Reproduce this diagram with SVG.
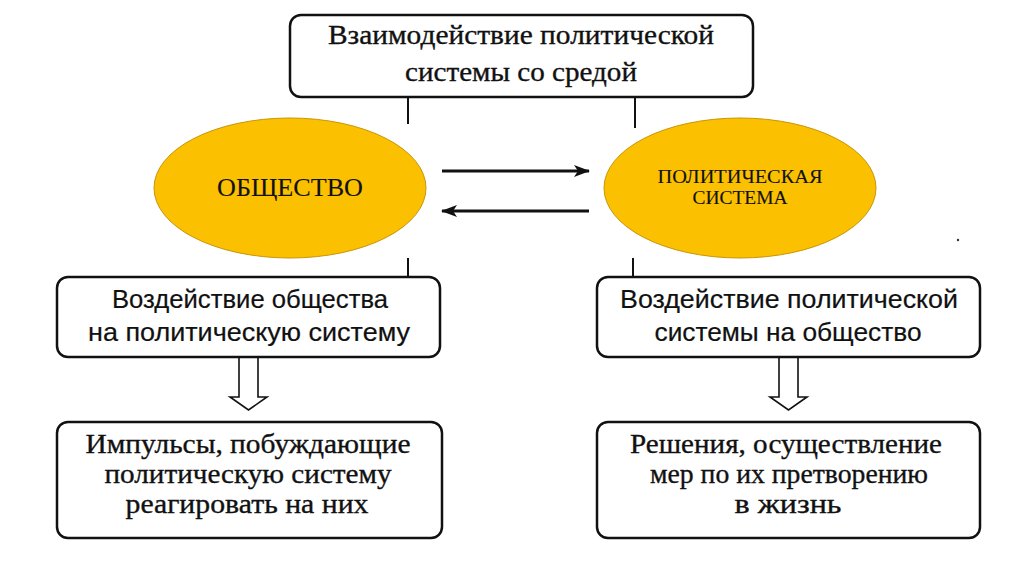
<svg xmlns="http://www.w3.org/2000/svg" width="1024" height="574" viewBox="0 0 1024 574">
<defs>
<style>
.box{fill:#fff;stroke:#111;stroke-width:2.5}
.ell{fill:#FBC000;stroke:#C8960A;stroke-width:1}
.line{stroke:#111;stroke-width:2;fill:none}
.arr{stroke:#111;stroke-width:3;fill:none}
.hollow{fill:#fff;stroke:#111;stroke-width:1.6}
.serif{font-family:"Liberation Serif","Times New Roman",serif;fill:#111;stroke:#111;stroke-width:0.35;text-anchor:middle}
.etext{font-family:"Liberation Serif","Times New Roman",serif;fill:#111;stroke:#111;stroke-width:0.1;text-anchor:middle}
.sans{font-family:"Liberation Sans",Arial,sans-serif;fill:#111;stroke:#111;stroke-width:0.2;text-anchor:middle}
</style>
<marker id="ah" viewBox="0 0 16 12" refX="15" refY="6" markerWidth="16" markerHeight="12" markerUnits="userSpaceOnUse" orient="auto">
<path d="M0,0 L16,6 L0,12 L4,6 Z" fill="#111"/>
</marker>
</defs>
<rect width="1024" height="574" fill="#fff"/>

<g id="connectors">
<line class="line" x1="408" y1="97" x2="408" y2="124"/>
<line class="line" x1="635" y1="97" x2="635" y2="128"/>
<line class="line" x1="408" y1="258" x2="408" y2="277"/>
<line class="line" x1="633" y1="258" x2="633" y2="277"/>
<line class="arr" x1="442" y1="171" x2="589" y2="171" marker-end="url(#ah)"/>
<line class="arr" x1="589" y1="211" x2="442" y2="211" marker-end="url(#ah)"/>
<path class="hollow" d="M239,357 L239,397 L230,397 L248.5,410 L267,397 L258,397 L258,357"/>
<path class="hollow" d="M779,357 L779,397 L770,397 L788.5,410 L807,397 L798,397 L798,357"/>
</g>

<g id="top">
<rect class="box" x="290" y="15" width="463" height="82" rx="11"/>
<text class="serif" font-size="28" x="521" y="44" textLength="386" lengthAdjust="spacingAndGlyphs">Взаимодействие политической</text>
<text class="serif" font-size="28" x="521" y="81" textLength="232" lengthAdjust="spacingAndGlyphs">системы со средой</text>
</g>

<g id="society">
<ellipse class="ell" cx="290" cy="188" rx="136" ry="70"/>
<text class="etext" font-size="26" x="290" y="196" textLength="146" lengthAdjust="spacingAndGlyphs">ОБЩЕСТВО</text>
</g>

<g id="polsys">
<ellipse class="ell" cx="740" cy="188" rx="136" ry="70"/>
<text class="etext" font-size="18" x="740" y="183" textLength="165" lengthAdjust="spacingAndGlyphs">ПОЛИТИЧЕСКАЯ</text>
<text class="etext" font-size="18" x="740" y="204" textLength="95" lengthAdjust="spacingAndGlyphs">СИСТЕМА</text>
</g>

<circle cx="958" cy="240" r="1.2" fill="#333"/>

<g id="impact-society">
<rect class="box" x="57" y="277" width="383" height="80" rx="11"/>
<text class="sans" font-size="26" x="250" y="308" textLength="276" lengthAdjust="spacingAndGlyphs">Воздействие общества</text>
<text class="sans" font-size="26" x="249" y="341" textLength="322" lengthAdjust="spacingAndGlyphs">на политическую систему</text>
</g>

<g id="impact-polsys">
<rect class="box" x="597" y="277" width="383" height="80" rx="11"/>
<text class="sans" font-size="26" x="789" y="308" textLength="338" lengthAdjust="spacingAndGlyphs">Воздействие политической</text>
<text class="sans" font-size="26" x="788" y="341" textLength="267" lengthAdjust="spacingAndGlyphs">системы на общество</text>
</g>

<g id="impulses">
<rect class="box" x="57" y="422" width="385" height="116" rx="11"/>
<text class="serif" font-size="28" x="248" y="453" textLength="325" lengthAdjust="spacingAndGlyphs">Импульсы, побуждающие</text>
<text class="serif" font-size="28" x="248" y="483" textLength="287" lengthAdjust="spacingAndGlyphs">политическую систему</text>
<text class="serif" font-size="28" x="247" y="513" textLength="243" lengthAdjust="spacingAndGlyphs">реагировать на них</text>
</g>

<g id="decisions">
<rect class="box" x="597" y="422" width="383" height="116" rx="11"/>
<text class="serif" font-size="28" x="786" y="453" textLength="312" lengthAdjust="spacingAndGlyphs">Решения, осуществление</text>
<text class="serif" font-size="28" x="789" y="483" textLength="278" lengthAdjust="spacingAndGlyphs">мер по их претворению</text>
<text class="serif" font-size="28" x="788" y="513" textLength="107" lengthAdjust="spacingAndGlyphs">в жизнь</text>
</g>
</svg>
